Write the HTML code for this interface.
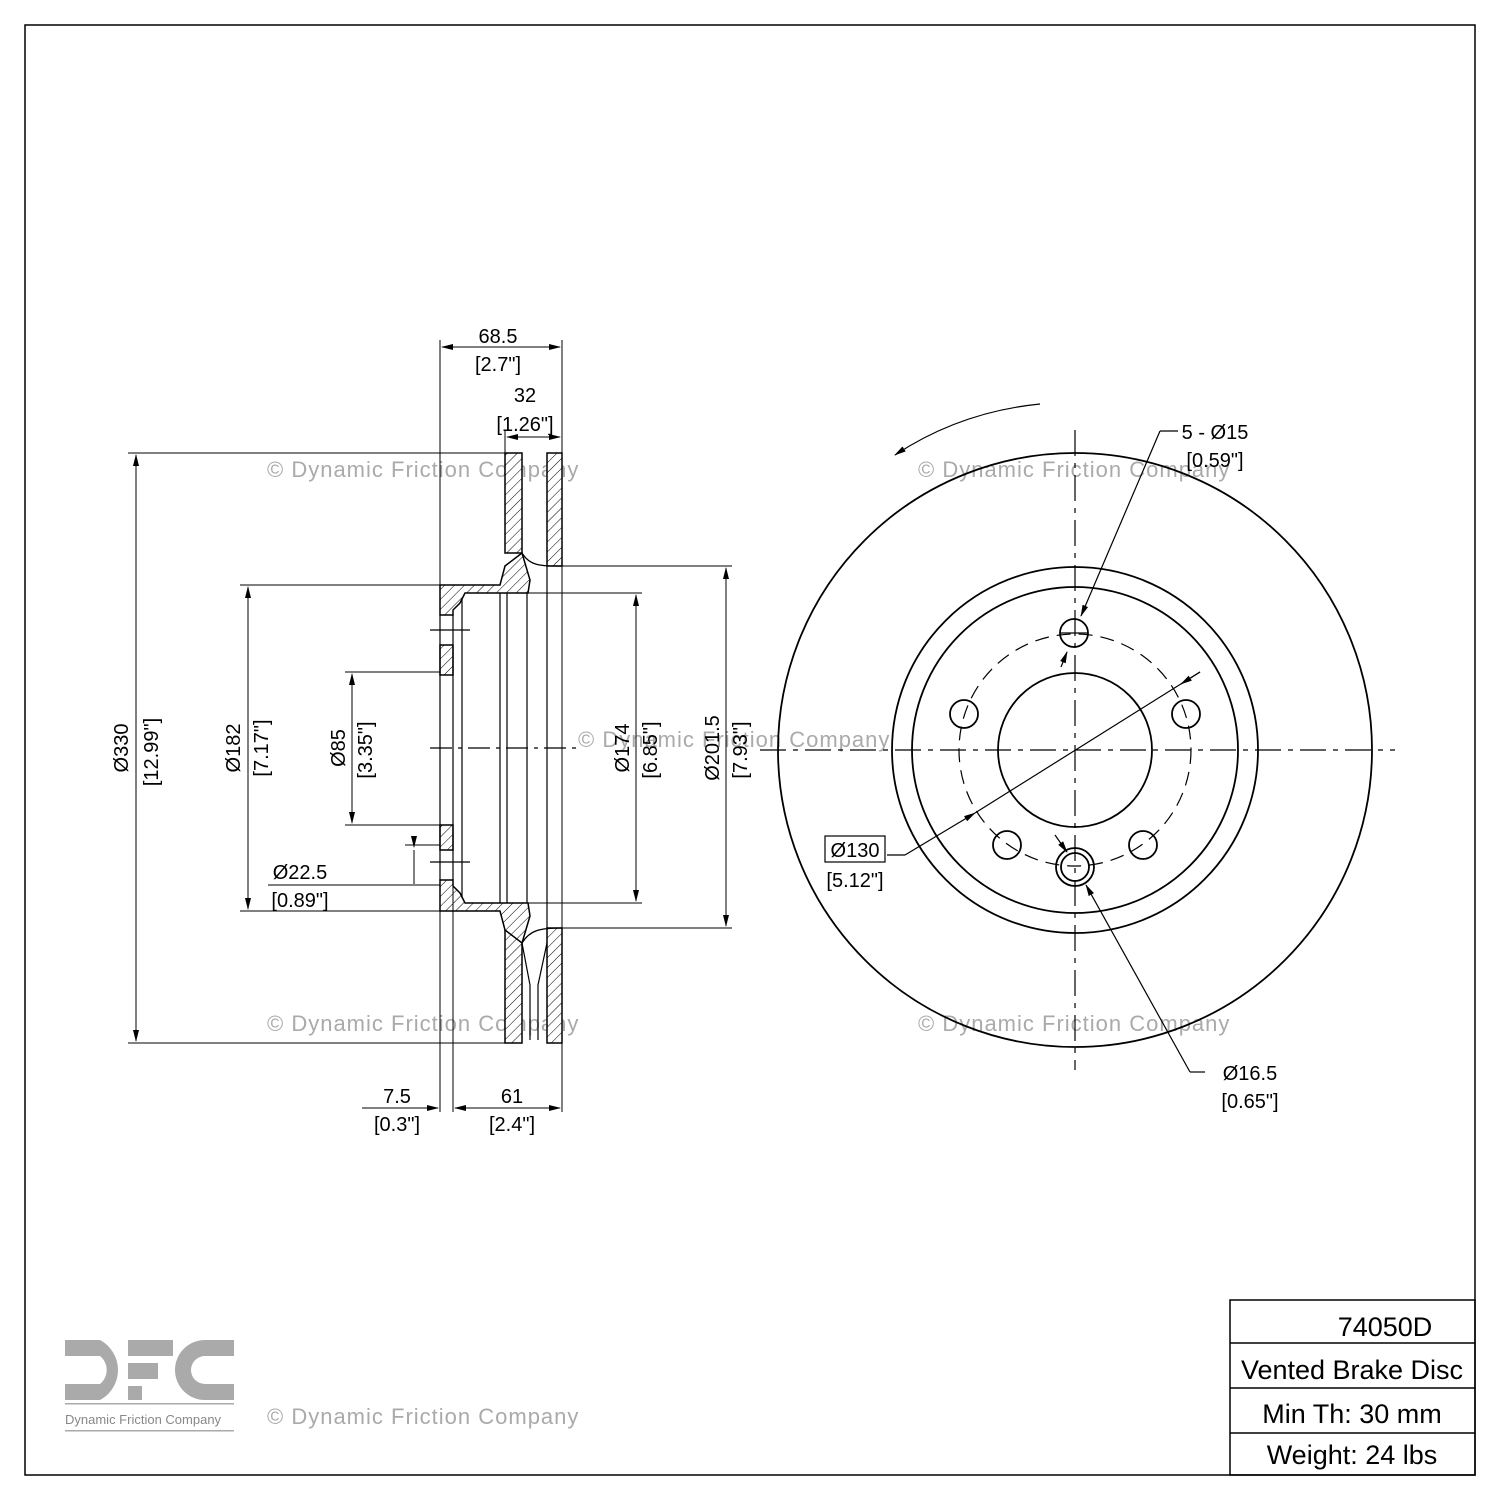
<!DOCTYPE html>
<html><head><meta charset="utf-8"><style>
html,body{margin:0;padding:0;background:#fff}
svg text{font-family:"Liberation Sans","DejaVu Sans",sans-serif}
</style></head><body>
<svg width="1500" height="1500" viewBox="0 0 1500 1500" xmlns="http://www.w3.org/2000/svg">
<defs>
<pattern id="h" width="7" height="7" patternUnits="userSpaceOnUse" patternTransform="rotate(45)">
<rect width="7" height="7" fill="#fff"/><line x1="0" y1="0" x2="0" y2="7" stroke="#000" stroke-width="1"/></pattern>
<marker id="a" markerWidth="12" markerHeight="8" refX="11" refY="4" orient="auto-start-reverse" markerUnits="userSpaceOnUse"><path d="M0,1 L12,4 L0,7 z" fill="#000"/></marker>
</defs>
<rect x="25" y="25" width="1450" height="1450" fill="none" stroke="#000" stroke-width="1.5"/>

<!-- watermarks -->
<g fill="#aaa" font-size="22" letter-spacing="1">
<text x="267" y="477">© Dynamic Friction Company</text>
<text x="918" y="477">© Dynamic Friction Company</text>
<text x="578" y="747">© Dynamic Friction Company</text>
<text x="267" y="1031">© Dynamic Friction Company</text>
<text x="918" y="1031">© Dynamic Friction Company</text>
<text x="267" y="1424">© Dynamic Friction Company</text>
</g>

<!-- section view -->
<g stroke="#000" stroke-width="1.5" fill="url(#h)">
<rect x="505" y="453" width="17" height="100"/>
<rect x="547" y="453" width="15" height="113"/>
<rect x="505" y="930" width="17" height="113"/>
<rect x="547" y="928" width="15" height="115"/>
<path d="M440,585 L500,585 L505,566 L522,553 L530,580 L528,593 L465,593 L460,603 L453,610 L453,615 L440,615 Z"/>
<path d="M440,911 L500,911 L505,930 L522,943 L530,916 L528,903 L465,903 L460,893 L453,886 L453,880 L440,880 Z"/>
<rect x="440" y="645" width="13" height="30"/>
<rect x="440" y="825" width="13" height="25"/>
</g>
<g stroke="#000" stroke-width="1.2" fill="none">
<path d="M522,553 C530,566 540,566 562,566"/>
<path d="M522,943 C530,930 540,928 562,928"/>
<line x1="440" y1="615" x2="440" y2="880"/>
<line x1="453" y1="615" x2="453" y2="880"/>
<line x1="462" y1="598" x2="462" y2="898"/>
<line x1="500" y1="593" x2="500" y2="903"/>
<line x1="507" y1="593" x2="507" y2="903"/>
<line x1="527" y1="593" x2="527" y2="903"/>
<line x1="547" y1="566" x2="547" y2="928"/>
<path d="M522,943 L530,985 L530,1040 M547,943 L538,985 L538,1040"/>
<line x1="430" y1="630" x2="470" y2="630"/>
<line x1="430" y1="862" x2="470" y2="862"/>
</g>
<line x1="430" y1="748" x2="580" y2="748" stroke="#000" stroke-width="1.2" stroke-dasharray="22,6,4,6"/>

<!-- dimension lines left -->
<g stroke="#000" stroke-width="1" fill="none">
<line x1="440" y1="340" x2="440" y2="1112"/>
<line x1="562" y1="340" x2="562" y2="1112"/>
<line x1="453" y1="880" x2="453" y2="1112"/>
<line x1="505" y1="430" x2="505" y2="453"/>
<line x1="442" y1="347" x2="560" y2="347" marker-start="url(#a)" marker-end="url(#a)"/>
<line x1="507" y1="437" x2="560" y2="437" marker-start="url(#a)" marker-end="url(#a)"/>
<line x1="128" y1="453" x2="505" y2="453"/>
<line x1="128" y1="1043" x2="505" y2="1043"/>
<line x1="136" y1="455" x2="136" y2="1041" marker-start="url(#a)" marker-end="url(#a)"/>
<line x1="240" y1="585" x2="440" y2="585"/>
<line x1="240" y1="911" x2="440" y2="911"/>
<line x1="248" y1="587" x2="248" y2="909" marker-start="url(#a)" marker-end="url(#a)"/>
<line x1="345" y1="672" x2="440" y2="672"/>
<line x1="345" y1="825" x2="440" y2="825"/>
<line x1="352" y1="674" x2="352" y2="823" marker-start="url(#a)" marker-end="url(#a)"/>
<line x1="528" y1="593" x2="642" y2="593"/>
<line x1="528" y1="903" x2="642" y2="903"/>
<line x1="636" y1="595" x2="636" y2="901" marker-start="url(#a)" marker-end="url(#a)"/>
<line x1="562" y1="566" x2="732" y2="566"/>
<line x1="562" y1="928" x2="732" y2="928"/>
<line x1="726" y1="568" x2="726" y2="926" marker-start="url(#a)" marker-end="url(#a)"/>
<line x1="405" y1="845" x2="440" y2="845"/>
<line x1="268" y1="885" x2="440" y2="885"/>
<line x1="414" y1="840" x2="414" y2="847" marker-end="url(#a)"/>
<line x1="414" y1="850" x2="414" y2="884"/>
<line x1="362" y1="1108" x2="438" y2="1108" marker-end="url(#a)"/>
<line x1="455" y1="1108" x2="560" y2="1108" marker-start="url(#a)" marker-end="url(#a)"/>
</g>
<g font-size="20" fill="#000" text-anchor="middle">
<text x="498" y="343">68.5</text><text x="498" y="371">[2.7"]</text>
<text x="525" y="402">32</text><text x="525" y="431">[1.26"]</text>
<text x="397" y="1103">7.5</text><text x="397" y="1131">[0.3"]</text>
<text x="512" y="1103">61</text><text x="512" y="1131">[2.4"]</text>
<text x="300" y="879">Ø22.5</text><text x="300" y="907">[0.89"]</text>
<text transform="translate(128,748) rotate(-90)">Ø330</text>
<text transform="translate(158,752) rotate(-90)">[12.99"]</text>
<text transform="translate(240,748) rotate(-90)">Ø182</text>
<text transform="translate(268,748) rotate(-90)">[7.17"]</text>
<text transform="translate(345,748) rotate(-90)">Ø85</text>
<text transform="translate(372,750) rotate(-90)">[3.35"]</text>
<text transform="translate(629,748) rotate(-90)">Ø174</text>
<text transform="translate(657,750) rotate(-90)">[6.85"]</text>
<text transform="translate(719,748) rotate(-90)">Ø201.5</text>
<text transform="translate(747,750) rotate(-90)">[7.93"]</text>
</g>

<!-- front view -->
<g stroke="#000" stroke-width="1.8" fill="none">
<circle cx="1075" cy="750" r="297"/>
<circle cx="1075" cy="750" r="183"/>
<circle cx="1075" cy="750" r="163"/>
<circle cx="1075" cy="750" r="77"/>
<circle cx="1074" cy="633" r="14"/>
<circle cx="964" cy="714" r="14"/>
<circle cx="1186" cy="714" r="14"/>
<circle cx="1007" cy="845" r="14"/>
<circle cx="1143" cy="845" r="14"/>
<circle cx="1075" cy="867" r="19"/>
<circle cx="1075" cy="867" r="14"/>
</g>
<circle cx="1075" cy="750" r="116" fill="none" stroke="#000" stroke-width="1.2" stroke-dasharray="14,8"/>
<g stroke="#000" stroke-width="1.2" fill="none">
<line x1="760" y1="750" x2="1395" y2="750" stroke-dasharray="26,7,5,7"/>
<line x1="1075" y1="430" x2="1075" y2="1070" stroke-dasharray="26,7,5,7"/>
<line x1="1060" y1="633" x2="1088" y2="633"/>
<path d="M1040,404 Q960,412 895,455" marker-end="url(#a)"/>
<line x1="1178" y1="431" x2="1160" y2="431"/>
<line x1="1160" y1="431" x2="1081" y2="616" marker-end="url(#a)"/>
<line x1="1061" y1="667" x2="1067" y2="652" marker-end="url(#a)"/>
<line x1="887" y1="855" x2="905" y2="855"/>
<line x1="905" y1="855" x2="975" y2="813" marker-end="url(#a)"/>
<line x1="975" y1="813" x2="1200" y2="672"/>
<line x1="1200" y1="672" x2="1181" y2="684" marker-end="url(#a)"/>
<line x1="1055" y1="835" x2="1067" y2="852" marker-end="url(#a)"/>
<line x1="1205" y1="1072" x2="1190" y2="1072"/>
<line x1="1190" y1="1072" x2="1086" y2="885" marker-end="url(#a)"/>
<rect x="825" y="836" width="60" height="26"/>
</g>
<g font-size="20" fill="#000" text-anchor="middle">
<text x="1215" y="439">5 - Ø15</text><text x="1215" y="467">[0.59"]</text>
<text x="855" y="857">Ø130</text><text x="855" y="887">[5.12"]</text>
<text x="1250" y="1080">Ø16.5</text><text x="1250" y="1108">[0.65"]</text>
</g>

<!-- logo -->
<g fill="#aaa">
<path d="M65,1340 H100 A34,34 0 0 1 100,1400 H65 V1384 H100 A18,18 0 0 0 100,1356 H65 Z"/>
<rect x="128" y="1340" width="45" height="16"/>
<rect x="128" y="1363" width="30" height="16"/>
<rect x="128" y="1386" width="14" height="14"/>
<path d="M234,1340 H205 A30,30 0 0 0 205,1400 H234 V1384 H205 A14,14 0 0 1 205,1356 H234 Z"/>
<rect x="65" y="1403" width="169" height="1.5"/>
<rect x="65" y="1430" width="169" height="1.5"/>
</g>
<text x="65" y="1424" font-size="13" fill="#888">Dynamic Friction Company</text>

<!-- table -->
<g stroke="#000" stroke-width="1.5" fill="none">
<rect x="1230" y="1300" width="245" height="175"/>
<line x1="1230" y1="1343" x2="1475" y2="1343"/>
<line x1="1230" y1="1388" x2="1475" y2="1388"/>
<line x1="1230" y1="1433" x2="1475" y2="1433"/>
</g>
<g font-size="27" fill="#000" text-anchor="middle">
<text x="1385" y="1336">74050D</text>
<text x="1352" y="1379">Vented Brake Disc</text>
<text x="1352" y="1423">Min Th: 30 mm</text>
<text x="1352" y="1464">Weight: 24 lbs</text>
</g>
</svg>
</body></html>
